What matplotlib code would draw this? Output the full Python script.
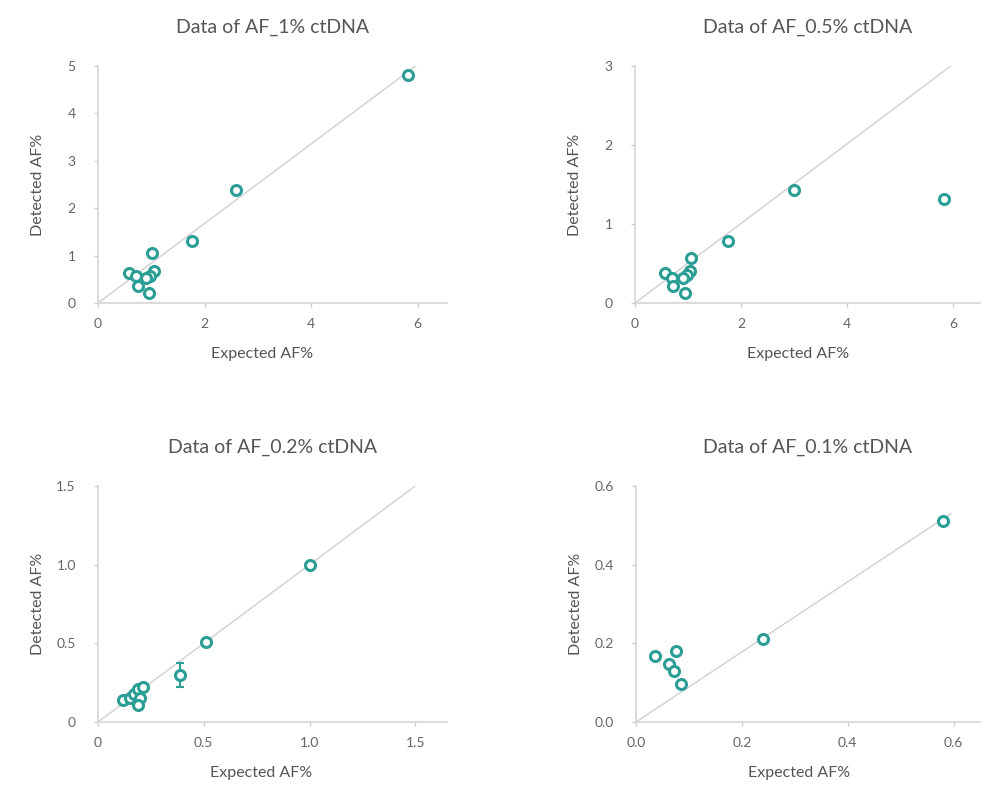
import matplotlib
matplotlib.use("Agg")
import matplotlib.pyplot as plt

# panel titles
titles = ["Data of AF_1% ctDNA", "Data of AF_0.5% ctDNA",
          "Data of AF_0.2% ctDNA", "Data of AF_0.1% ctDNA"]

# expected / detected AF% per panel
exp_1 = [5.81, 2.59, 1.77, 1.01, 0.58, 0.71, 1.06, 0.98, 0.90, 0.75, 0.95]
det_1 = [4.81, 2.38, 1.30, 1.05, 0.63, 0.58, 0.68, 0.58, 0.52, 0.36, 0.21]

exp_05 = [5.82, 3.00, 1.76, 1.05, 0.57, 0.69, 1.04, 0.98, 0.91, 0.72, 0.95]
det_05 = [1.32, 1.43, 0.78, 0.57, 0.38, 0.32, 0.41, 0.36, 0.32, 0.22, 0.13]

exp_02 = [1.00, 0.51, 0.39, 0.12, 0.15, 0.17, 0.19, 0.215, 0.20, 0.19]
det_02 = [1.00, 0.51, 0.30, 0.14, 0.15, 0.18, 0.21, 0.22, 0.15, 0.11]
# error bar only on the 0.39 point
err_lo_02 = [0, 0, 0.08, 0, 0, 0, 0, 0, 0, 0]
err_hi_02 = [0, 0, 0.075, 0, 0, 0, 0, 0, 0, 0]

exp_01 = [0.58, 0.24, 0.036, 0.076, 0.0625, 0.072, 0.085]
det_01 = [0.51, 0.21, 0.169, 0.181, 0.147, 0.130, 0.097]

# axis settings per panel
x_ticks = [[0, 2, 4, 6], [0, 2, 4, 6], [0, 0.5, 1.0, 1.5], [0.0, 0.2, 0.4, 0.6]]
y_ticks = [[0, 1, 2, 3, 4, 5], [0, 1, 2, 3], [0, 0.5, 1.0, 1.5], [0.0, 0.2, 0.4, 0.6]]
x_labels = [["0", "2", "4", "6"], ["0", "2", "4", "6"],
            ["0", "0.5", "1.0", "1.5"], ["0.0", "0.2", "0.4", "0.6"]]
y_labels = [["0", "1", "2", "3", "4", "5"], ["0", "1", "2", "3"],
            ["0", "0.5", "1.0", "1.5"], ["0.0", "0.2", "0.4", "0.6"]]
x_max = [6.55, 6.5, 1.65, 0.65]
# end point of the grey reference line (starts at 0,0)
ref_end = [(5.96, 5.0), (5.95, 3.0), (1.5, 1.5), (0.595, 0.53)]

plt.rcParams["font.family"] = ["Lato", "DejaVu Sans"]

teal = "#2a9d94"
grey_line = "#d0d0d0"
text_col = "#555555"
tick_col = "#666666"

fig = plt.figure(figsize=(10.02, 7.87), dpi=100)
rects = [
    (98 / 1002, 1 - 303 / 787, 349 / 1002, 237 / 787),
    (635 / 1002, 1 - 303 / 787, 345 / 1002, 237 / 787),
    (98 / 1002, 1 - 722 / 787, 349 / 1002, 236 / 787),
    (636 / 1002, 1 - 722 / 787, 344 / 1002, 236 / 787),
]

data = [(exp_1, det_1), (exp_05, det_05), (exp_02, det_02), (exp_01, det_01)]

for i, rect in enumerate(rects):
    ax = fig.add_axes(rect)
    xs, ys = data[i]
    w_px = rect[2] * 1002
    ax.plot([0, ref_end[i][0]], [0, ref_end[i][1]], color=grey_line, lw=1, zorder=1)
    if i == 2:
        ax.errorbar(xs, ys, yerr=[err_lo_02, err_hi_02], fmt="none",
                    ecolor=teal, elinewidth=1.5, capsize=3, capthick=1.5, zorder=2)
    ax.plot(xs, ys, "o", mfc="white", mec=teal, mew=2.2, ms=7.2, zorder=3,
            clip_on=False)

    ax.set_xlim(0, x_max[i])
    ax.set_ylim(0, y_ticks[i][-1])
    ax.set_xticks(x_ticks[i])
    ax.set_yticks(y_ticks[i])
    ax.set_xticklabels(x_labels[i])
    ax.set_yticklabels(y_labels[i])

    for s in ["top", "right"]:
        ax.spines[s].set_visible(False)
    for s in ["left", "bottom"]:
        ax.spines[s].set_color("#d6d6d6")
        ax.spines[s].set_linewidth(1.2)
    ax.tick_params(colors="#cccccc", labelcolor=tick_col, labelsize=10,
                   length=3, width=1)
    ax.tick_params(axis="x", pad=8)
    ax.tick_params(axis="y", pad=13)

    ax.set_title(titles[i], fontsize=14, color=text_col, pad=24)
    ax.set_xlabel("Expected AF%", fontsize=11.5, color=text_col)
    ax.set_ylabel("Detected AF%", fontsize=11.5, color=text_col)
    # x label sits under the middle of the tick range
    xl = x_ticks[i][-1] / 2 / x_max[i] + 4 / w_px
    ax.xaxis.set_label_coords(xl, -51 / 237, transform=ax.transAxes)
    ax.yaxis.set_label_coords(-60 / w_px, 0.5, transform=ax.transAxes)
    ax.xaxis.label.set_va("center")
    ax.yaxis.label.set_va("center")

fig.savefig("out.png", dpi=100)
